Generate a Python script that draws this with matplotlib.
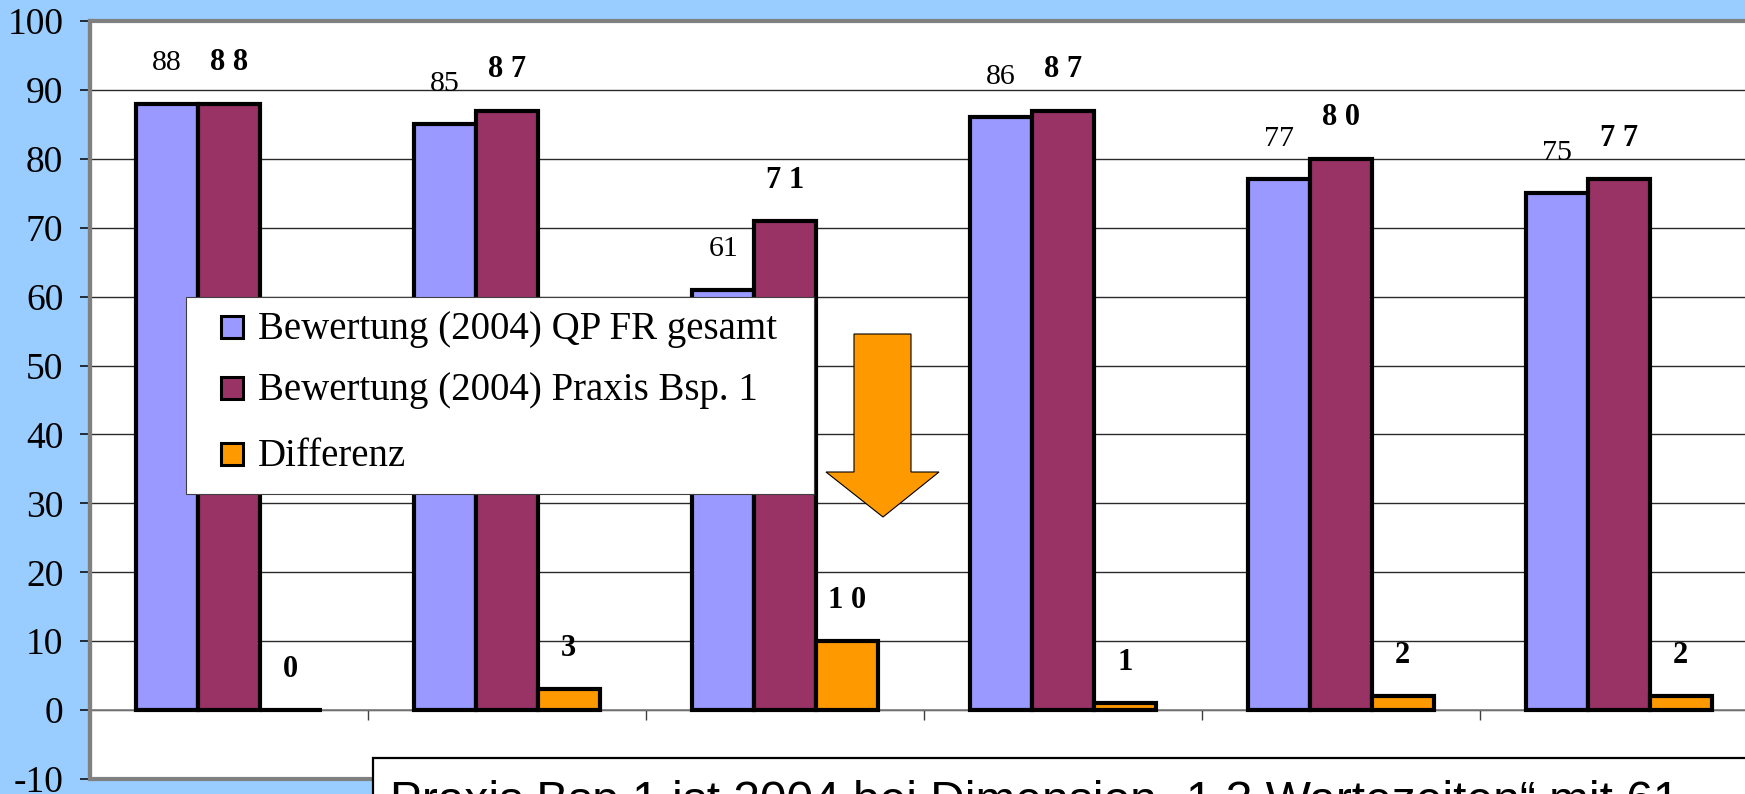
import matplotlib
matplotlib.use("Agg")
import matplotlib.pyplot as plt
import numpy as np
from matplotlib.patches import Rectangle, Polygon

# ---- data -------------------------------------------------------------
series_names = [
    "Bewertung (2004) QP FR gesamt",
    "Bewertung (2004) Praxis Bsp. 1",
    "Differenz",
]
qp_fr_gesamt = [88, 85, 61, 86, 77, 75]
praxis_bsp1 = [88, 87, 71, 87, 80, 77]
differenz = [0, 3, 10, 1, 2, 2]
y_ticks = list(range(-10, 101, 10))
note_text = "Praxis Bsp 1 ist 2004 bei Dimension „1.3 Wartezeiten“ mit 61"

colors = ["#9999FF", "#993366", "#FF9900"]
label_bold = [False, True, True]

# ---- figure -----------------------------------------------------------
W, H, DPI = 1745, 794, 100
plt.rcParams["font.family"] = ["Liberation Serif", "DejaVu Serif"]
plt.rcParams["axes.unicode_minus"] = False

fig = plt.figure(figsize=(W / DPI, H / DPI), dpi=DPI, facecolor="#99CCFF")


def fx(px):
    return px / W


def fy(py):
    return 1 - py / H


left, right, top, bottom = 90, 1758, 21, 779
ax = fig.add_axes([fx(left), fy(bottom), fx(right) - fx(left), fy(top) - fy(bottom)])
ax.set_facecolor("white")

n = len(qp_fr_gesamt)
x = np.arange(n)
bw = 1 / 4.5
all_series = [qp_fr_gesamt, praxis_bsp1, differenz]

for i, (vals, col, bold) in enumerate(zip(all_series, colors, label_bold)):
    pos = x + (i - 1) * bw
    ax.bar(pos, vals, bw, color=col, edgecolor="black", linewidth=3,
           zorder=3, label=series_names[i])
    for xp, v in zip(pos, vals):
        txt = " ".join(str(v)) if bold else str(v)
        ax.annotate(txt, (xp, v), xytext=(0, 24), textcoords="offset points",
                    ha="center", va="baseline", fontsize=22 if bold else 21.5,
                    fontweight="bold" if bold else "normal", zorder=4)

ax.set_xlim(-0.5, n - 0.5)
ax.set_ylim(-10, 100)
ax.set_yticks(y_ticks)
ax.set_yticklabels([str(t) for t in y_ticks])
for t in y_ticks[1:]:
    ax.axhline(t, color="#2a2a2a", lw=1.0, zorder=1)

ax.tick_params(axis="y", direction="out", length=7.2, width=1.1,
               color="black", pad=12, labelsize=27)
ax.set_xticks(np.arange(-0.5, n, 1))
ax.tick_params(axis="x", direction="out", length=7.2, width=1.0,
               color="#404040", labelbottom=False)

ax.spines["bottom"].set_position(("data", 0))
ax.spines["bottom"].set_color("#808080")
ax.spines["bottom"].set_linewidth(1.2)
ax.spines["left"].set_color("#808080")
ax.spines["left"].set_linewidth(3)
ax.spines["top"].set_visible(False)
ax.spines["right"].set_visible(False)

# plot-area frame
ax.add_patch(Rectangle((0, 0), 1, 1, transform=ax.transAxes, fill=False,
                       ec="#808080", lw=3, clip_on=False, zorder=2.5))

# ---- legend -----------------------------------------------------------
fig.add_artist(Rectangle((fx(186), fy(494)), fx(814) - fx(186), fy(297) - fy(494),
                         transform=fig.transFigure, fc="white", ec="#404040",
                         lw=0.8, zorder=5))
row_base = [339, 400, 466]
for name, col, yb in zip(series_names, colors, row_base):
    fig.add_artist(Rectangle((fx(221), fy(yb - 1)), fx(243) - fx(221), fy(yb - 23) - fy(yb - 1),
                             transform=fig.transFigure, fc=col, ec="black",
                             lw=2.2, zorder=6))
    fig.text(fx(258), fy(yb), name, fontsize=28, ha="left", va="baseline", zorder=6)

# ---- arrow ------------------------------------------------------------
arrow_px = [(854, 334), (911, 334), (911, 472), (939, 472),
            (883, 517), (826, 472), (854, 472)]
fig.add_artist(Polygon([(fx(a), fy(b)) for a, b in arrow_px], closed=True,
                       transform=fig.transFigure, fc="#FF9900", ec="black",
                       lw=0.8, zorder=6))

# ---- note box ---------------------------------------------------------
fig.add_artist(Rectangle((fx(373), fy(860)), fx(1800) - fx(373), fy(758) - fy(860),
                         transform=fig.transFigure, fc="white", ec="black",
                         lw=1.6, zorder=6))
fig.text(fx(390), fy(815), note_text, fontsize=34.5, ha="left", va="baseline",
         family=["Liberation Sans", "DejaVu Sans"], zorder=7)

fig.savefig("out.png", dpi=DPI, facecolor=fig.get_facecolor())
